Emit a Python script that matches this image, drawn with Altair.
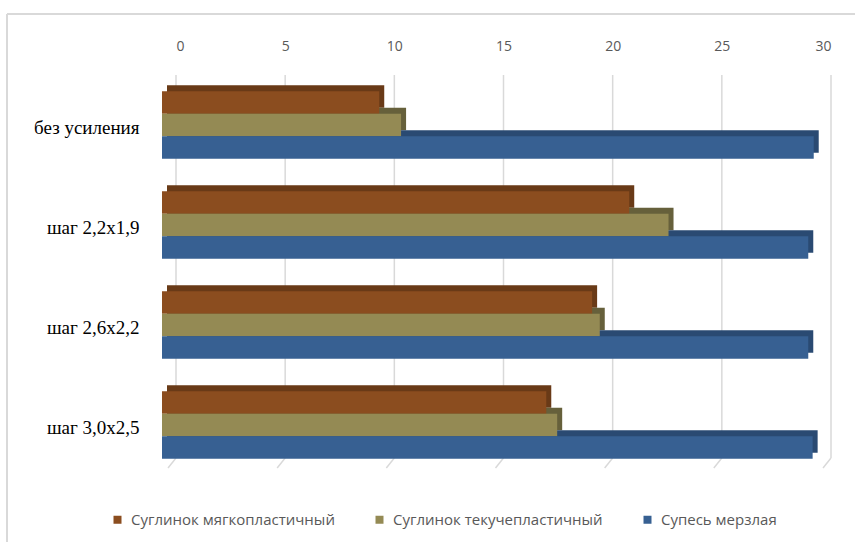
import altair as alt
import pandas as pd

categories = ["без усиления", "шаг 2,2x1,9", "шаг 2,6x2,2", "шаг 3,0x2,5"]
series = ["Суглинок мягкопластичный", "Суглинок текучепластичный", "Супесь мерзлая"]
v_myagko = [9.95, 21.4, 19.7, 17.6]
v_tekuche = [10.95, 23.2, 20.05, 18.1]
v_supes = [29.85, 29.6, 29.6, 29.8]
x_ticks = [0, 5, 10, 15, 20, 25, 30]

rows = []
for i, c in enumerate(categories):
    for s, vals in zip(series, [v_myagko, v_tekuche, v_supes]):
        rows.append({"cat": c, "series": s, "value": vals[i]})
df = pd.DataFrame(rows)
ticks_df = pd.DataFrame({"value": x_ticks})

front_colors = ["#8B4D1F", "#948A54", "#376092"]
back_colors = ["#693A17", "#66603B", "#2A4A72"]

W, H = 655, 400
BAR_H = 22.5

xscale = alt.Scale(domain=[0, 30], nice=False, zero=True)
xaxis = alt.Axis(orient="top", title=None, domain=False, ticks=False, grid=False,
                 values=x_ticks, labelFont="Open Sans", labelFontSize=14,
                 labelColor="#595959", labelPadding=22)
yenc = alt.Y(
    "cat:N", sort=categories,
    scale=alt.Scale(domain=categories, paddingInner=0, paddingOuter=0),
    axis=alt.Axis(title=None, domain=False, ticks=False, labelFont="Liberation Serif",
                  labelFontSize=19, labelColor="#000000", labelPadding=37, labelOffset=3,
                  labelLimit=300),
)
xenc = alt.X("value:Q", scale=xscale, axis=xaxis)

grid = alt.Chart(ticks_df).mark_rule(color="#d9d9d9", strokeWidth=1.5).encode(
    x=xenc,
    y=alt.value(0), y2=alt.value(383),
)
floor = alt.Chart(ticks_df).mark_rule(color="#d9d9d9", strokeWidth=1.5, x2Offset=-8).encode(
    x=xenc, x2=alt.X2("value:Q"),
    y=alt.value(383), y2=alt.value(393),
)
frame_data = alt.Data(values=[{"k": 1}])
frame_top = alt.Chart(frame_data).mark_rule(color="#d9d9d9", strokeWidth=2).encode(
    x=alt.value(-169), x2=alt.value(700), y=alt.value(-61),
)
frame_left = alt.Chart(frame_data).mark_rule(color="#d9d9d9", strokeWidth=2).encode(
    x=alt.value(-169), y=alt.value(-61), y2=alt.value(480),
)

layers = [grid, floor, frame_top, frame_left]
for j, s in enumerate(series):
    off = (j - 1) * BAR_H
    layers.append(
        alt.Chart(df).transform_filter(alt.datum.series == s)
        .mark_bar(height=BAR_H, yOffset=off - 6, xOffset=-9, x2Offset=-9, color=back_colors[j])
        .encode(x=xenc, y=yenc)
    )
for j, s in enumerate(series):
    off = (j - 1) * BAR_H
    layers.append(
        alt.Chart(df).transform_filter(alt.datum.series == s)
        .mark_bar(height=BAR_H, yOffset=off, xOffset=-14, x2Offset=-14)
        .encode(
            x=xenc, y=yenc,
            color=alt.Color(
                "series:N",
                scale=alt.Scale(domain=series, range=front_colors),
                legend=alt.Legend(
                    title=None, orient="none", direction="horizontal",
                    legendX=-66, legendY=437, symbolType="square", symbolSize=64,
                    symbolStrokeWidth=0, labelFont="Open Sans", labelFontSize=15,
                    labelColor="#595959", labelOffset=6, columnPadding=37,
                    labelLimit=0,
                ),
            ),
        )
    )

chart = alt.layer(*layers).properties(
    width=W, height=H,
    autosize=alt.AutoSizeParams(type="none"),
    padding={"left": 176, "top": 75, "right": 24, "bottom": 67},
    background="white",
).configure_view(stroke=None)

chart.save("out.html", embed_options={"renderer": "svg", "actions": False})
